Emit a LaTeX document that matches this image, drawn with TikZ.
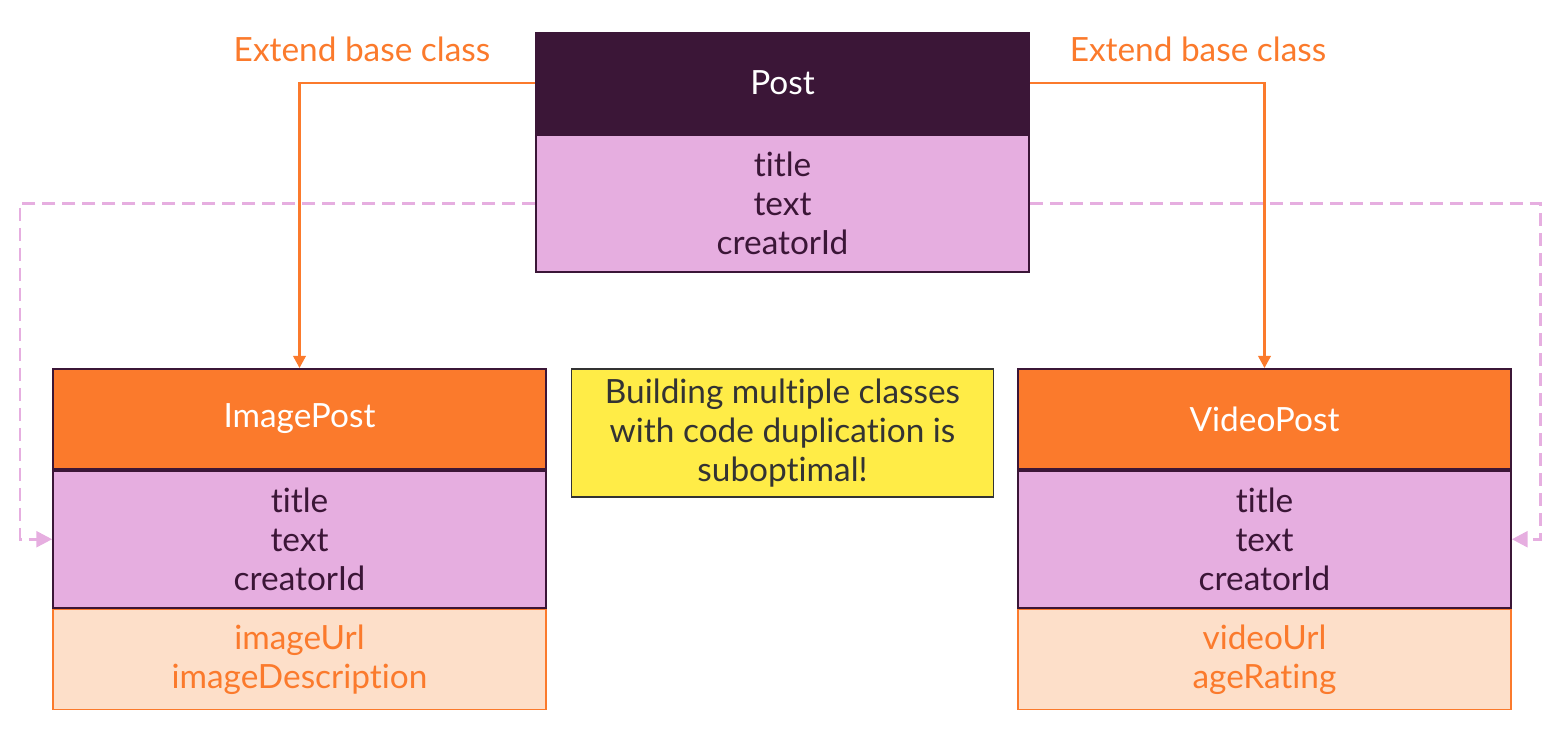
\documentclass[tikz,border=0pt]{standalone}
\usepackage{fontspec}
\setmainfont{Lato}[Ligatures={NoCommon,NoRare}]
\usetikzlibrary{positioning,arrows.meta}
\definecolor{postdark}{HTML}{3B1637}
\definecolor{fieldpink}{HTML}{E6AEE0}
\definecolor{subhead}{HTML}{FB7A2C}
\definecolor{extrapeach}{HTML}{FDDFC9}
\definecolor{notebg}{HTML}{FFEC47}
\definecolor{notetext}{HTML}{333333}
\tikzset{
  classfont/.style={font=\fontsize{19}{22}\selectfont},
  head/.style={classfont,draw=postdark,line width=1pt,fill=postdark,text=white,
    minimum width=9.86cm,minimum height=2cm,inner sep=0pt},
  subclass/.style={head,fill=subhead},
  fields/.style={classfont,draw=postdark,line width=1pt,fill=fieldpink,text=postdark,
    minimum width=9.86cm,minimum height=2.74cm,inner sep=0pt,align=center},
  extra/.style={classfont,draw=subhead,line width=1pt,fill=extrapeach,text=subhead,
    minimum width=9.86cm,minimum height=2cm,inner sep=0pt,align=center},
  note/.style={classfont,draw=notetext,line width=0.6pt,fill=notebg,text=notetext,
    minimum width=8.46cm,minimum height=2.56cm,inner sep=0pt,align=center},
  extlabel/.style={classfont,text=subhead},
  extend/.style={draw=subhead,line width=1.7pt,-{Triangle[width=7pt,length=7pt]}},
  copies/.style={draw=fieldpink,line width=1.7pt,dash pattern=on 0.26cm off 0.14cm,
    -{Triangle[width=9pt,length=9pt]}}
}
\begin{document}
\begin{tikzpicture}[x=0.02cm,y=-0.02cm]
	\useasboundingbox (0,0) rectangle (1563,733);
	% base class
	\node[head] (post) at (782.5,83) {Post};
	\node[fields,below=0pt of post] (postbody) {title\\text\\creatorId};
	% sub classes
	\node[subclass] (image) at (299.5,419) {ImagePost};
	\node[fields,below=0pt of image] (imagebody) {title\\text\\creatorId};
	\node[extra,below=0pt of imagebody] (imageextra) {imageUrl\\imageDescription};
	\node[subclass] (video) at (1264.5,419) {VideoPost};
	\node[fields,below=0pt of video] (videobody) {title\\text\\creatorId};
	\node[extra,below=0pt of videobody] (videoextra) {videoUrl\\ageRating};
	\node[note] (remark) at (782.5,433) {Building multiple classes\\with code duplication is\\suboptimal!};
	% inheritance
	\node[extlabel] (extleft) at (362,49) {Extend base class};
	\node[extlabel] (extright) at (1198,49) {Extend base class};
	\draw[extend] (post.west) -| (image.north);
	\draw[extend] (post.east) -| (video.north);
	% copied fields
	\coordinate (farleft) at (20,0);
	\coordinate (farright) at (1540,0);
	\draw[copies] (postbody.west) -- (postbody.west -| farleft) |- (imagebody.west);
	\draw[copies] (postbody.east) -- (postbody.east -| farright) |- (videobody.east);
\end{tikzpicture}
\end{document}
